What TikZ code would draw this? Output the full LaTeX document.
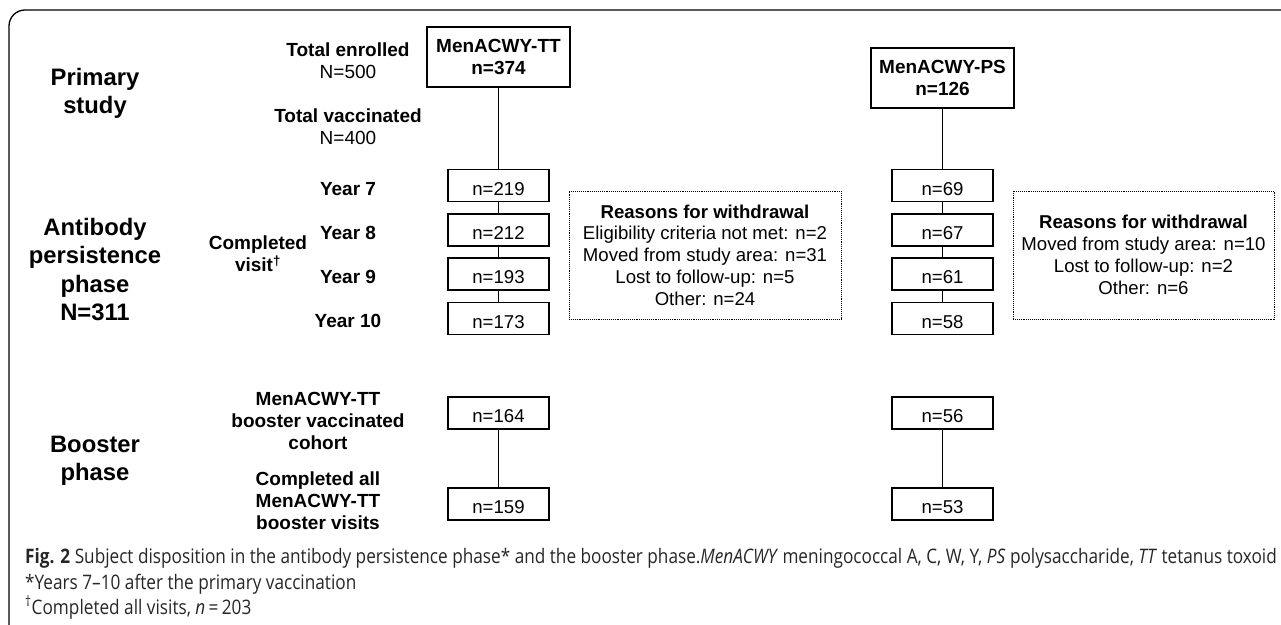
\documentclass[tikz,border=0pt]{standalone}
\usepackage{fontspec}
\setmainfont{Liberation Sans}
\newfontfamily\capfont[FakeStretch=0.86]{Open Sans}
\tikzset{
  caja/.style={draw, line width=1.1pt, minimum width=101pt, minimum height=32pt,
    inner sep=0pt, text height=19pt, text depth=0pt, font=\fontsize{18.6}{22}\selectfont},
  cajagrande/.style={draw, line width=1.1pt, minimum width=143pt, minimum height=60pt,
    inner sep=0pt, align=center, font=\bfseries\fontsize{19}{22.5}\selectfont},
  motivos/.style={draw, densely dotted, line width=0.9pt, minimum height=128pt,
    inner sep=0pt, align=center, font=\fontsize{18.6}{21.8}\selectfont},
  fase/.style={align=center, font=\bfseries\fontsize{23.8}{28.3}\selectfont},
  etiq/.style={align=center, font=\bfseries\fontsize{19}{22}\selectfont},
  linea/.style={line width=1pt},
  pie/.style={anchor=base west, inner sep=0pt, text=black!85, font=\capfont\fontsize{20}{24}\selectfont},
}
\begin{document}
\begin{tikzpicture}[x=1pt,y=-1pt]
    \useasboundingbox (0,0) rectangle (1281,624);

    % Marco
    \draw[line width=1.3pt, rounded corners=16pt] (9,640) -- (9,10) -- (1300,10);

    % Fases
    \node[fase] (primaria) at (95,93) {Primary\\study};
    \node[fase] (persistencia) at (95,269.5) {Antibody\\persistence\\phase\\N=311};
    \node[fase] (refuerzo) at (95,461) {Booster\\phase};

    % Etiquetas
    \node[etiq] (inscritos) at (348,60.5) {Total enrolled\\{\mdseries N=500}};
    \node[etiq] (vacunados) at (348,127) {Total vaccinated\\{\mdseries N=400}};
    \node[etiq] (ano7) at (348,189) {Year 7};
    \node[etiq] (ano8) at (348,233) {Year 8};
    \node[etiq] (ano9) at (348,277) {Year 9};
    \node[etiq] (ano10) at (348,321) {Year 10};
    \node[etiq] (completado) at (258,254) {Completed\\visit\textsuperscript{†}};
    \node[etiq] (cohorte) at (318,421) {MenACWY-TT\\booster vaccinated\\cohort};
    \node[etiq] (visitas) at (318,501) {Completed all\\MenACWY-TT\\booster visits};

    % Rama MenACWY-TT
    \node[cajagrande] (tt) at (498.5,57) {MenACWY-TT\\n=374};
    \node[caja] (tt7) at (498.5,185.5) {n=219};
    \node[caja] (tt8) at (498.5,230) {n=212};
    \node[caja] (tt9) at (498.5,274) {n=193};
    \node[caja] (tt10) at (498.5,318.5) {n=173};
    \node[caja] (ttb1) at (498.5,413) {n=164};
    \node[caja] (ttb2) at (498.5,504) {n=159};

    % Rama MenACWY-PS
    \node[cajagrande] (ps) at (942.5,78) {MenACWY-PS\\n=126};
    \node[caja] (ps7) at (942.5,185.5) {n=69};
    \node[caja] (ps8) at (942.5,230) {n=67};
    \node[caja] (ps9) at (942.5,274) {n=61};
    \node[caja] (ps10) at (942.5,318.5) {n=58};
    \node[caja] (psb1) at (942.5,413) {n=56};
    \node[caja] (psb2) at (942.5,504) {n=53};

    % Retiros
    \node[motivos, minimum width=272pt] (retiro1) at (705,255)
        {\textbf{Reasons for withdrawal}\\Eligibility criteria not met: n=2\\Moved from study area: n=31\\Lost to follow-up: n=5\\Other: n=24};
    \node[motivos, minimum width=261pt] (retiro2) at (1143.5,255)
        {\textbf{Reasons for withdrawal}\\Moved from study area: n=10\\Lost to follow-up: n=2\\Other: n=6};

    % Conectores
    \draw[linea] (tt) -- (tt7) (tt7) -- (tt8) (tt8) -- (tt9) (tt9) -- (tt10) (ttb1) -- (ttb2);
    \draw[linea] (ps) -- (ps7) (ps7) -- (ps8) (ps8) -- (ps9) (ps9) -- (ps10) (psb1) -- (psb2);

    % Pie de figura
    \node[pie] (pie1) at (25,563) {\textbf{Fig. 2} Subject disposition in the antibody persistence phase* and the booster phase.\textit{MenACWY} meningococcal A, C, W, Y, \textit{PS} polysaccharide, \textit{TT} tetanus toxoid};
    \node[pie] (pie2) at (25,589) {*Years 7–10 after the primary vaccination};
    \node[pie] (pie3) at (25,614) {\textsuperscript{†}Completed all visits, \textit{n}\,=\,203};
\end{tikzpicture}
\end{document}
